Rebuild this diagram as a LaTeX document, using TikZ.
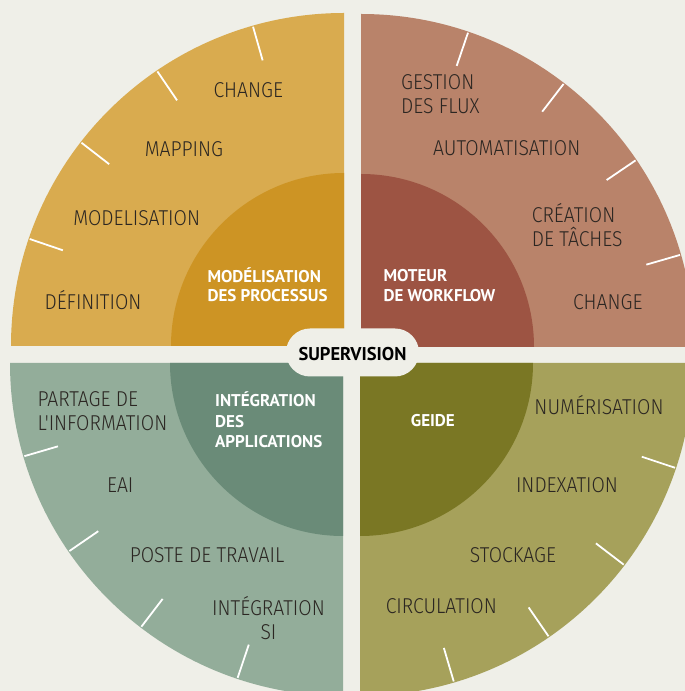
\documentclass[tikz,border=0pt]{standalone}
\usepackage{fontspec}
\newfontfamily\lblfont[FakeStretch=0.9]{Fira Sans Light}
\newfontfamily\hdfont{PT Sans Bold}
\definecolor{bgcream}{HTML}{EFEFE8}
\definecolor{tlout}{HTML}{D9AB4F}
\definecolor{tlin}{HTML}{CD9424}
\definecolor{trout}{HTML}{B9836A}
\definecolor{trin}{HTML}{9D5443}
\definecolor{blout}{HTML}{93AD9A}
\definecolor{blin}{HTML}{6A8B78}
\definecolor{brout}{HTML}{A6A15B}
\definecolor{brin}{HTML}{7A7724}
\definecolor{labeltext}{HTML}{2B2622}
\begin{document}
\begin{tikzpicture}[x=1pt,y=1pt,
  ring/.style={font=\lblfont\fontsize{21.5}{24}\selectfont, text=labeltext, inner sep=0pt, anchor=base},
  ringw/.style={ring, anchor=base west},
  core/.style={font=\hdfont\fontsize{17}{20}\selectfont, text=white, inner sep=0pt, anchor=base west},
  tick/.style={draw=white, line width=1.8pt},
  pill/.style={fill=bgcream, rounded corners=24pt, minimum width=133pt, minimum height=48pt,
    inner sep=0pt, text height=17pt, text depth=0pt, anchor=base,
    font=\hdfont\fontsize{18.5}{20}\selectfont, text=black}]
\useasboundingbox (0,0) rectangle (685,691);
\fill[bgcream] (0,0) rectangle (685,691);
\begin{scope}
\clip (0,0) rectangle (685,691);
% corners of the four quarter discs
\coordinate (tl) at (344,345);
\coordinate (tr) at (361,344);
\coordinate (bl) at (343,328);
\coordinate (br) at (360,328);
% outer rings
\fill[tlout] (tl) -- ++(90:333pt) arc[start angle=90, end angle=180, radius=333pt] -- cycle;
\fill[trout] (tr) -- ++(0:333pt) arc[start angle=0, end angle=90, radius=333pt] -- cycle;
\fill[blout] (bl) -- ++(180:333pt) arc[start angle=180, end angle=270, radius=333pt] -- cycle;
\fill[brout] (br) -- ++(270:333pt) arc[start angle=270, end angle=360, radius=333pt] -- cycle;
% inner discs
\fill[tlin] (tl) -- ++(90:173pt) arc[start angle=90, end angle=180, radius=173pt] -- cycle;
\fill[trin] (tr) -- ++(0:173pt) arc[start angle=0, end angle=90, radius=173pt] -- cycle;
\fill[blin] (bl) -- ++(180:173pt) arc[start angle=180, end angle=270, radius=173pt] -- cycle;
\fill[brin] (br) -- ++(270:173pt) arc[start angle=270, end angle=360, radius=173pt] -- cycle;
% separators on the outer rim
\foreach \a in {105.9,124.2,142.25,161.2} \draw[tick] (tl) ++(\a:297pt) -- ++(\a:35pt);
\foreach \a in {16.1,34.2,52.4,71.2} \draw[tick] (tr) ++(\a:297pt) -- ++(\a:35pt);
\foreach \a in {196.3,214.5,232.6,251.5} \draw[tick] (bl) ++(\a:297pt) -- ++(\a:35pt);
\foreach \a in {286.4,304.6,322.6,341.6} \draw[tick] (br) ++(\a:297pt) -- ++(\a:35pt);
\end{scope}

% top left: process modelling
\node[ring] (tl1) at (248.3,593.7) {CHANGE};
\node[ring] (tl2) at (184,534.3) {MAPPING};
\node[ring] (tl3) at (136.7,465.3) {MODELISATION};
\node[ring] (tl4) at (93,381.7) {DÉFINITION};
\node[core] (tlca) at (207.3,408.3) {MODÉLISATION};
\node[core] (tlcb) at (207.3,389.3) {DES PROCESSUS};

% top right: workflow engine
\node[ringw] (tr1a) at (401,601.7) {GESTION};
\node[ringw] (tr1b) at (401,577.7) {DES FLUX};
\node[ring] (tr2) at (506.7,535) {AUTOMATISATION};
\node[ringw] (tr3a) at (531.7,468.3) {CRÉATION};
\node[ringw] (tr3b) at (531.7,444.3) {DE TÂCHES};
\node[ring] (tr4) at (607.8,381) {CHANGE};
\node[core] (trca) at (383.3,409) {MOTEUR};
\node[core] (trcb) at (383.3,389.3) {DE WORKFLOW};

% bottom left: application integration
\node[ringw] (bl1a) at (37.3,284.3) {PARTAGE DE};
\node[ringw] (bl1b) at (37.3,260.3) {L'INFORMATION};
\node[ring] (bl2) at (120.3,198.3) {EAI};
\node[ring] (bl3) at (207,128.3) {POSTE DE TRAVAIL};
\node[ring] (bl4a) at (268.5,75) {INTÉGRATION};
\node[ring] (bl4b) at (268.5,51.7) {SI};
\node[core] (blca) at (215,284.3) {INTÉGRATION};
\node[core] (blcb) at (215,263.7) {DES};
\node[core] (blcc) at (215,243.7) {APPLICATIONS};

% bottom right: document management
\node[ring] (br1) at (599,276) {NUMÉRISATION};
\node[ring] (br2) at (567,198.3) {INDEXATION};
\node[ring] (br3) at (513,128.3) {STOCKAGE};
\node[ring] (br4) at (441.3,77.7) {CIRCULATION};
\node[core] (brc) at (410.7,264.3) {GEIDE};

% centre badge
\node[pill] (sup) at (352.5,330) {SUPERVISION};
\end{tikzpicture}
\end{document}
